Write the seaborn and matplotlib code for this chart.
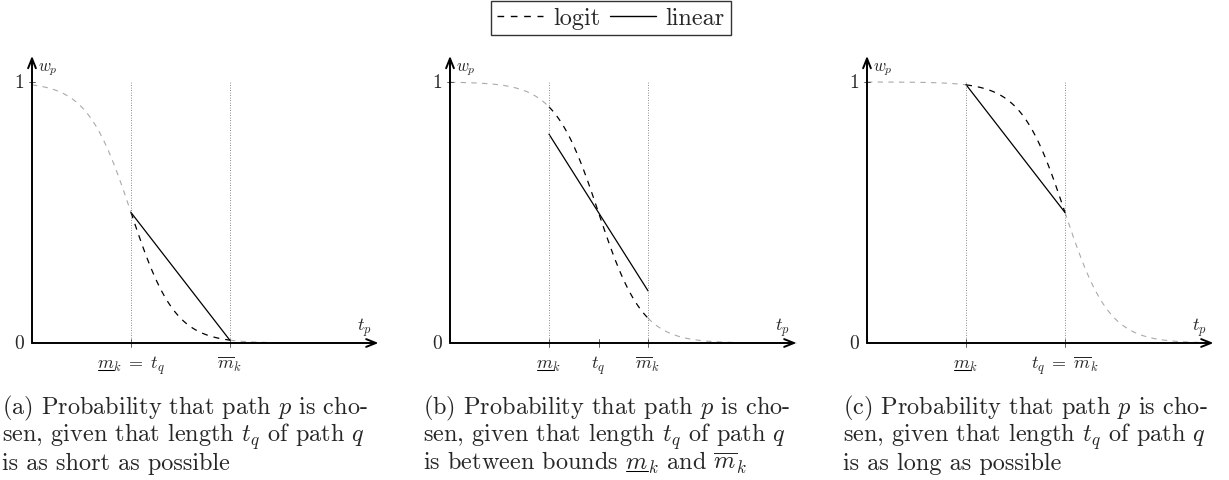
import numpy as np
import seaborn as sns
import matplotlib.pyplot as plt
from matplotlib.lines import Line2D

# logit curve per panel: centre (w = 0.5) and steepness
logit_centre = [1.0, 1.5, 2.0]
logit_steep = [4.5, 4.5, 4.5]
# linear approximation between the bounds m_k (x=1) and m_k bar (x=2)
lin_x = [1.0, 2.0]
lin_y = [[0.5, 0.01], [0.8, 0.2], [0.99, 0.5]]
bounds = [1.0, 2.0]
tick_pos = [[1.0, 2.0], [1.0, 1.5, 2.0], [1.0, 2.0]]
# "_m_" marks an underlined m (mathtext has no \underline)
tick_lab = [[r"_m_$_k \;=\; t_q$", r"$\overline{m}_k$"],
            ["_m_$_k$", r"$t_q$", r"$\overline{m}_k$"],
            ["_m_$_k$", r"$t_q \;=\; \overline{m}_k$"]]
captions = [["(a) Probability that path $p$ is cho-",
             "sen, given that length $t_q$ of path $q$",
             "is as short as possible"],
            ["(b) Probability that path $p$ is cho-",
             "sen, given that length $t_q$ of path $q$",
             "is between bounds _m_$_k$ and $\\overline{m}_k$"],
            ["(c) Probability that path $p$ is cho-",
             "sen, given that length $t_q$ of path $q$",
             "is as long as possible"]]
x_end = 3.5

sns.set_style("white")
plt.rcParams["font.family"] = "serif"
plt.rcParams["font.serif"] = ["cmr10"]
plt.rcParams["mathtext.fontset"] = "cm"
plt.rcParams["axes.unicode_minus"] = False
plt.rcParams["axes.formatter.use_mathtext"] = True

W, H = 1229, 481
fig = plt.figure(figsize=(W / 100, H / 100), dpi=100)
renderer = fig.canvas.get_renderer()

ux, uy = 99.0, 261.0       # pixels per data unit
origins = [32, 450, 867]   # pixel x of each origin
oy = 344                   # pixel y of the x axis
x0, x1, y0, y1 = -0.1, 3.65, -0.05, 1.15
cap_x = [2, 423, 843]
cap_base = [414, 442, 470]
dash = (0, (4.8, 4.8))


def width_px(s, size):
    t = fig.text(0, 0, s, fontsize=size)
    w = t.get_window_extent(renderer).width
    t.remove()
    return w


def put(s, px, py, size, ha="left"):
    # text at pixel position (px = left or centre, py = baseline, from top)
    shown = s.replace("_m_", "$m$")
    if ha == "center":
        px = px - width_px(shown, size) / 2
    fig.text(px / W, 1 - py / H, shown, fontsize=size, ha="left", va="baseline")
    if "_m_" in s:
        pre = s.split("_m_")[0] + "$m$"
        right = px + width_px(pre, size)
        left = right - width_px("$m$", size)
        yy = 1 - (py + 2.0) / H
        fig.add_artist(Line2D([(left + 0.5) / W, (right - 0.3) / W], [yy, yy],
                              color="black", lw=0.75))


def logit(x, c, k):
    return 1.0 / (1.0 + np.exp(k * (x - c)))


for i in range(3):
    left = (origins[i] + x0 * ux) / W
    bottom = (H - (oy - y0 * uy)) / H
    ax = fig.add_axes([left, bottom, (x1 - x0) * ux / W, (y1 - y0) * uy / H])
    ax.set_xlim(x0, x1)
    ax.set_ylim(y0, y1)
    ax.axis("off")

    xs = np.linspace(0, x_end, 400)
    ys = logit(xs, logit_centre[i], logit_steep[i])
    inside = (xs >= bounds[0]) & (xs <= bounds[1])
    sns.lineplot(x=xs[xs <= bounds[0]], y=ys[xs <= bounds[0]], ax=ax, color="#aaaaaa",
                 lw=0.8, linestyle=dash, sort=False)
    sns.lineplot(x=xs[xs >= bounds[1]], y=ys[xs >= bounds[1]], ax=ax, color="#aaaaaa",
                 lw=0.8, linestyle=dash, sort=False)
    sns.lineplot(x=xs[inside], y=ys[inside], ax=ax, color="black",
                 lw=0.9, linestyle=dash, sort=False)
    sns.lineplot(x=lin_x, y=lin_y[i], ax=ax, color="black", lw=0.9, sort=False)

    for b in bounds:
        ax.plot([b, b], [0, 1], color="#666666", lw=0.6, linestyle=(0, (1, 2)))
    for t, lab in zip(tick_pos[i], tick_lab[i]):
        ax.plot([t, t], [-0.015, 0.015], color="#444444", lw=0.6)
        put(lab, origins[i] + t * ux, 369, 13, ha="center")
    ax.plot([-0.03, 0.03], [1, 1], color="#444444", lw=0.6)

    head = "->,head_length=0.7,head_width=0.28"
    ax.annotate("", xy=(x_end, 0), xytext=(0, 0),
                arrowprops=dict(arrowstyle=head, lw=1.4, color="black", shrinkA=0, shrinkB=0))
    ax.annotate("", xy=(0, 1.1), xytext=(0, 0),
                arrowprops=dict(arrowstyle=head, lw=1.4, color="black", shrinkA=0, shrinkB=0))
    ax.text(-0.08, 0, "0", ha="right", va="center", fontsize=14)
    ax.text(-0.08, 1, "1", ha="right", va="center", fontsize=14)
    ax.text(0.06, 1.05, "$w_p$", ha="left", va="center", fontsize=12)
    ax.text(3.36, 0.02, "$t_p$", ha="center", va="bottom", fontsize=13)

    for line, yb in zip(captions[i], cap_base):
        put(line, cap_x[i], yb, 17.5)

handles = [Line2D([], [], color="black", lw=1.0, linestyle=dash),
           Line2D([], [], color="black", lw=1.0)]
fig.legend(handles, ["logit", "linear"], loc="upper center", bbox_to_anchor=(611 / W, 1 - 2 / H),
           ncol=2, frameon=True, fancybox=False, edgecolor="black", fontsize=17.5,
           handlelength=1.9, columnspacing=0.4, handletextpad=0.4, borderpad=0.25,
           borderaxespad=0)

fig.savefig("out.png", dpi=100)
